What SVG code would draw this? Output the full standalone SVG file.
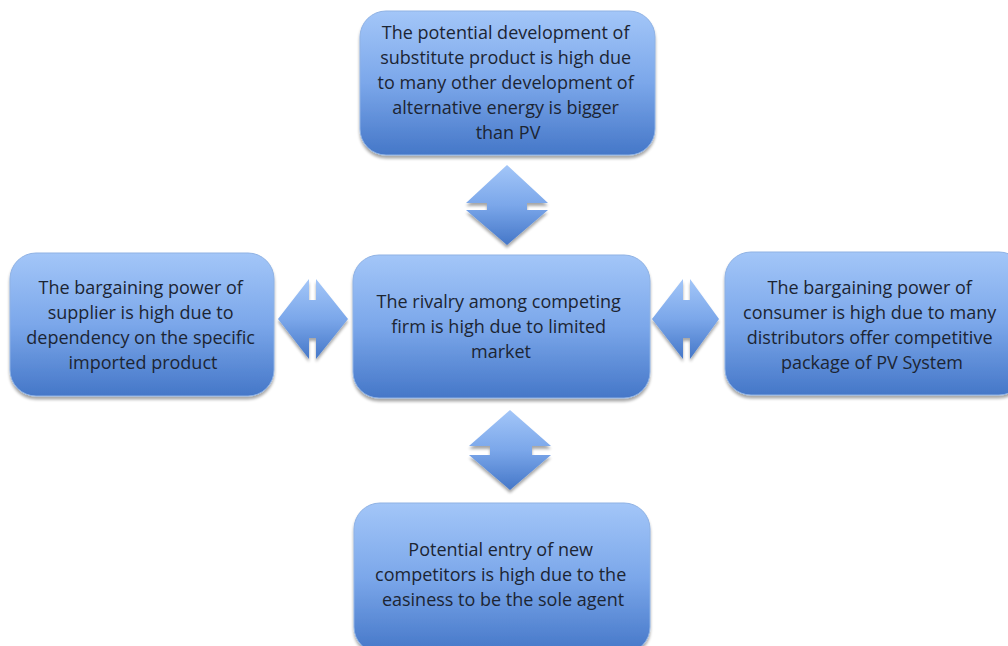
<svg xmlns="http://www.w3.org/2000/svg" width="1008" height="646" viewBox="0 0 1008 646">
  <style>
    .box { fill: url(#blueGrad); stroke: #8fb2e4; stroke-width: 1; filter: url(#shadow); }
    .arrow { fill: url(#blueGrad); stroke: none; filter: url(#shadow); }
    .label { font-family: "Open Sans", "Liberation Sans", sans-serif; font-size: 18px; fill: #1c2533; text-anchor: middle; }
  </style>
  <defs>
    <linearGradient id="blueGrad" x1="0" y1="0" x2="0" y2="1">
      <stop offset="0" stop-color="#a3c6f8"/>
      <stop offset="0.5" stop-color="#7ba7ea"/>
      <stop offset="1" stop-color="#4577c8"/>
    </linearGradient>
    <filter id="shadow" x="-10%" y="-10%" width="120%" height="125%">
      <feGaussianBlur in="SourceAlpha" stdDeviation="1.8"/>
      <feOffset dx="0" dy="2.5" result="blur"/>
      <feComponentTransfer><feFuncA type="linear" slope="0.35"/></feComponentTransfer>
      <feMerge><feMergeNode/><feMergeNode in="SourceGraphic"/></feMerge>
    </filter>
  </defs>
  <rect width="1008" height="646" fill="#ffffff"/>

  <!-- double-headed block arrows between the forces -->
  <g id="connectors">
    <path class="arrow" d="M507,165 L548,203 L527,203 L527,210 L548,210 L507,245 L466,210 L487,210 L487,203 L466,203 Z"/>
    <path class="arrow" d="M510,410 L551,446 L532,446 L532,455 L551,455 L510,490 L469,455 L490,455 L490,446 L469,446 Z"/>
    <path class="arrow" d="M278,319 L309,279 L309,300 L316,300 L316,279 L348,319 L316,359 L316,338 L309,338 L309,359 Z"/>
    <path class="arrow" d="M652,319 L683,279 L683,300 L690,300 L690,279 L719,319 L690,359 L690,338 L683,338 L683,359 Z"/>
  </g>

  <g id="substitutes">
    <rect class="box" x="360" y="11" width="295" height="144" rx="26"/>
    <text class="label" x="508">
      <tspan x="508" y="39">The potential development of</tspan>
      <tspan x="508" y="64">substitute product is high due</tspan>
      <tspan x="508" y="89">to many other development of</tspan>
      <tspan x="508" y="114">alternative energy is bigger</tspan>
      <tspan x="508" y="139">than PV</tspan>
    </text>
  </g>

  <g id="suppliers">
    <rect class="box" x="10" y="253" width="264" height="143" rx="26"/>
    <text class="label">
      <tspan x="143" y="294">The bargaining power of</tspan>
      <tspan x="143" y="319">supplier is high due to</tspan>
      <tspan x="143" y="344">dependency on the specific</tspan>
      <tspan x="143" y="369">imported product</tspan>
    </text>
  </g>

  <g id="rivalry">
    <rect class="box" x="353" y="255" width="297" height="143" rx="26"/>
    <text class="label">
      <tspan x="501" y="308">The rivalry among competing</tspan>
      <tspan x="501" y="333">firm is high due to limited</tspan>
      <tspan x="501" y="358">market</tspan>
    </text>
  </g>

  <g id="buyers">
    <rect class="box" x="725" y="252" width="300" height="143" rx="26"/>
    <text class="label">
      <tspan x="872" y="294">The bargaining power of</tspan>
      <tspan x="872" y="319">consumer is high due to many</tspan>
      <tspan x="872" y="344">distributors offer competitive</tspan>
      <tspan x="872" y="369">package of PV System</tspan>
    </text>
  </g>

  <g id="new-entrants">
    <rect class="box" x="354" y="503" width="296" height="150" rx="26"/>
    <text class="label">
      <tspan x="503" y="556">Potential entry of new</tspan>
      <tspan x="503" y="581">competitors is high due to the</tspan>
      <tspan x="503" y="606">easiness to be the sole agent</tspan>
    </text>
  </g>
</svg>
